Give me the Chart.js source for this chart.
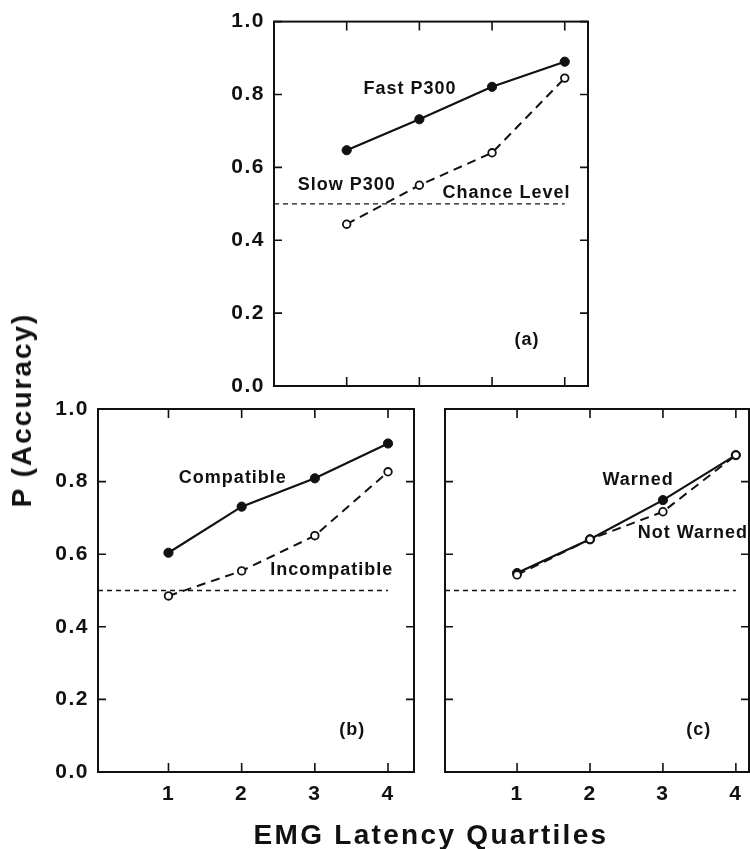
<!DOCTYPE html>
<html>
<head>
<meta charset="utf-8">
<script src="https://cdn.jsdelivr.net/npm/chart.js@4.4.0/dist/chart.umd.min.js"></script>
<style>
    html, body { margin: 0; padding: 0; background: #fff; }
    #wrap { position: relative; width: 750px; height: 849px; overflow: hidden; font-family: "Liberation Sans", Arial, sans-serif; }
    canvas.panel { position: absolute; }
    .axis-title { position: absolute; font-weight: bold; font-size: 28px; letter-spacing: 2px; color: #111; white-space: nowrap; }
    #ytitle { left: 22px; top: 410px; transform: translate(-50%, -50%) rotate(-90deg); }
    #xtitle { left: 431px; top: 835px; transform: translate(-50%, -50%); letter-spacing: 2.3px; }
</style>
</head>
<body>
<div id="wrap">
    <canvas id="panelA" class="panel" width="400" height="410" style="left:200px; top:0px;"></canvas>
    <canvas id="panelB" class="panel" width="400" height="440" style="left:30px; top:380px;"></canvas>
    <canvas id="panelC" class="panel" width="330" height="440" style="left:430px; top:380px;"></canvas>
    <div id="ytitle" class="axis-title">P (Accuracy)</div>
    <div id="xtitle" class="axis-title">EMG Latency Quartiles</div>
</div>
<script>
const quartiles = [1, 2, 3, 4];
const yTicks = [0, 0.2, 0.4, 0.6, 0.8, 1.0];
const chanceLevel = 0.5;

// (a) P300 latency split
const fastP300 = [0.647, 0.732, 0.821, 0.89];
const slowP300 = [0.444, 0.551, 0.64, 0.845];
// (b) stimulus compatibility
const compatible = [0.604, 0.731, 0.809, 0.905];
const incompatible = [0.485, 0.554, 0.651, 0.827];
// (c) warning condition
const warned = [0.548, 0.641, 0.749, 0.873];
const notWarned = [0.543, 0.641, 0.717, 0.873];

const ink = '#111';
const fontFamily = "'Liberation Sans', Arial, sans-serif";

Chart.defaults.color = ink;

function toPoints(values) {
    return quartiles.map((q, i) => ({ x: q, y: values[i] }));
}

function solidSeries(label, values) {
    return {
        label,
        data: toPoints(values),
        borderColor: ink,
        backgroundColor: ink,
        borderWidth: 2.2,
        pointRadius: 4.6,
        pointBorderWidth: 1,
        pointBackgroundColor: ink,
        pointBorderColor: ink,
        order: 2
    };
}

function dashedSeries(label, values) {
    return {
        label,
        data: toPoints(values),
        borderColor: ink,
        borderWidth: 2,
        borderDash: [9, 6],
        pointRadius: 3.8,
        pointBorderWidth: 1.8,
        pointBackgroundColor: '#fff',
        pointBorderColor: ink,
        order: 1
    };
}

function chanceSeries(xMin) {
    return {
        label: 'Chance Level',
        data: [{ x: xMin, y: chanceLevel }, { x: quartiles[quartiles.length - 1], y: chanceLevel }],
        borderColor: ink,
        borderWidth: 1.3,
        borderDash: [5, 4],
        pointRadius: 0,
        order: 3
    };
}

// box, inward ticks on all four sides, and the in-plot labels
const framePlugin = {
    id: 'frame',
    beforeDraw(chart) {
        chart.ctx.letterSpacing = '1.5px';
    },
    afterDatasetsDraw(chart, args, opts) {
        const { ctx, chartArea: a, scales: { x, y } } = chart;
        ctx.save();
        ctx.letterSpacing = '0px';
        ctx.strokeStyle = ink;
        ctx.lineWidth = 2;
        ctx.strokeRect(a.left, a.top, a.width, a.height);
        ctx.lineWidth = 1.6;
        ctx.beginPath();
        y.ticks.forEach(t => {
            const py = y.getPixelForValue(t.value);
            ctx.moveTo(a.left, py); ctx.lineTo(a.left + 8, py);
            ctx.moveTo(a.right, py); ctx.lineTo(a.right - 8, py);
        });
        x.ticks.forEach(t => {
            const px = x.getPixelForValue(t.value);
            ctx.moveTo(px, a.top); ctx.lineTo(px, a.top + 9);
            ctx.moveTo(px, a.bottom); ctx.lineTo(px, a.bottom - 9);
        });
        ctx.stroke();

        ctx.letterSpacing = '1px';
        ctx.font = 'bold 18px ' + fontFamily;
        ctx.fillStyle = ink;
        ctx.textAlign = 'center';
        ctx.textBaseline = 'middle';
        (opts.notes || []).forEach(n => {
            ctx.fillText(n.text, x.getPixelForValue(n.x), y.getPixelForValue(n.y));
        });
        ctx.restore();
    }
};

function makePanel(id, cfg) {
    const ctx = document.getElementById(id).getContext('2d');
    return new Chart(ctx, {
        type: 'line',
        data: { datasets: cfg.datasets },
        options: {
            responsive: false,
            animation: false,
            layout: { padding: cfg.padding },
            scales: {
                x: {
                    type: 'linear',
                    min: cfg.xMin,
                    max: cfg.xMax,
                    grid: { display: false, drawTicks: false },
                    border: { display: false },
                    afterBuildTicks: s => { s.ticks = quartiles.map(v => ({ value: v })); },
                    afterFit: s => { s.height = cfg.xAxisHeight; },
                    ticks: {
                        display: cfg.showX,
                        padding: 10,
                        color: ink,
                        font: { family: fontFamily, size: 21, weight: 'bold' },
                        callback: v => String(v)
                    }
                },
                y: {
                    min: 0,
                    max: 1,
                    grid: { display: false, drawTicks: false },
                    border: { display: false },
                    afterBuildTicks: s => { s.ticks = yTicks.map(v => ({ value: v })); },
                    afterFit: s => { s.width = cfg.yAxisWidth; },
                    ticks: {
                        display: cfg.showY,
                        padding: 9,
                        color: ink,
                        font: { family: fontFamily, size: 21, weight: 'bold' },
                        callback: v => v.toFixed(1)
                    }
                }
            },
            plugins: {
                legend: { display: false },
                tooltip: { enabled: false },
                frame: { notes: cfg.notes }
            }
        },
        plugins: [framePlugin]
    });
}

const xMinA = 0, xMinB = 0.037, xMinC = 0.012;

makePanel('panelA', {
    xMin: xMinA, xMax: 4.32,
    yAxisWidth: 74, xAxisHeight: 24,
    padding: { top: 21, right: 12, left: 0, bottom: 0 },
    showX: false, showY: true,
    datasets: [solidSeries('Fast P300', fastP300), dashedSeries('Slow P300', slowP300), chanceSeries(xMinA)],
    notes: [
        { text: 'Fast P300', x: 1.87, y: 0.816 },
        { text: 'Slow P300', x: 1.0, y: 0.551 },
        { text: 'Chance Level', x: 3.2, y: 0.529 },
        { text: '(a)', x: 3.48, y: 0.126 }
    ]
});

makePanel('panelB', {
    xMin: xMinB, xMax: 4.355,
    yAxisWidth: 68, xAxisHeight: 48,
    padding: { top: 29, right: 16, left: 0, bottom: 0 },
    showX: true, showY: true,
    datasets: [solidSeries('Compatible', compatible), dashedSeries('Incompatible', incompatible), chanceSeries(xMinB)],
    notes: [
        { text: 'Compatible', x: 1.88, y: 0.81 },
        { text: 'Incompatible', x: 3.23, y: 0.556 },
        { text: '(b)', x: 3.51, y: 0.116 }
    ]
});

makePanel('panelC', {
    xMin: xMinC, xMax: 4.18,
    yAxisWidth: 15, xAxisHeight: 48,
    padding: { top: 29, right: 11, left: 0, bottom: 0 },
    showX: true, showY: false,
    datasets: [solidSeries('Warned', warned), dashedSeries('Not Warned', notWarned), chanceSeries(xMinC)],
    notes: [
        { text: 'Warned', x: 2.66, y: 0.804 },
        { text: 'Not Warned', x: 3.41, y: 0.658 },
        { text: '(c)', x: 3.49, y: 0.116 }
    ]
});
</script>
</body>
</html>
